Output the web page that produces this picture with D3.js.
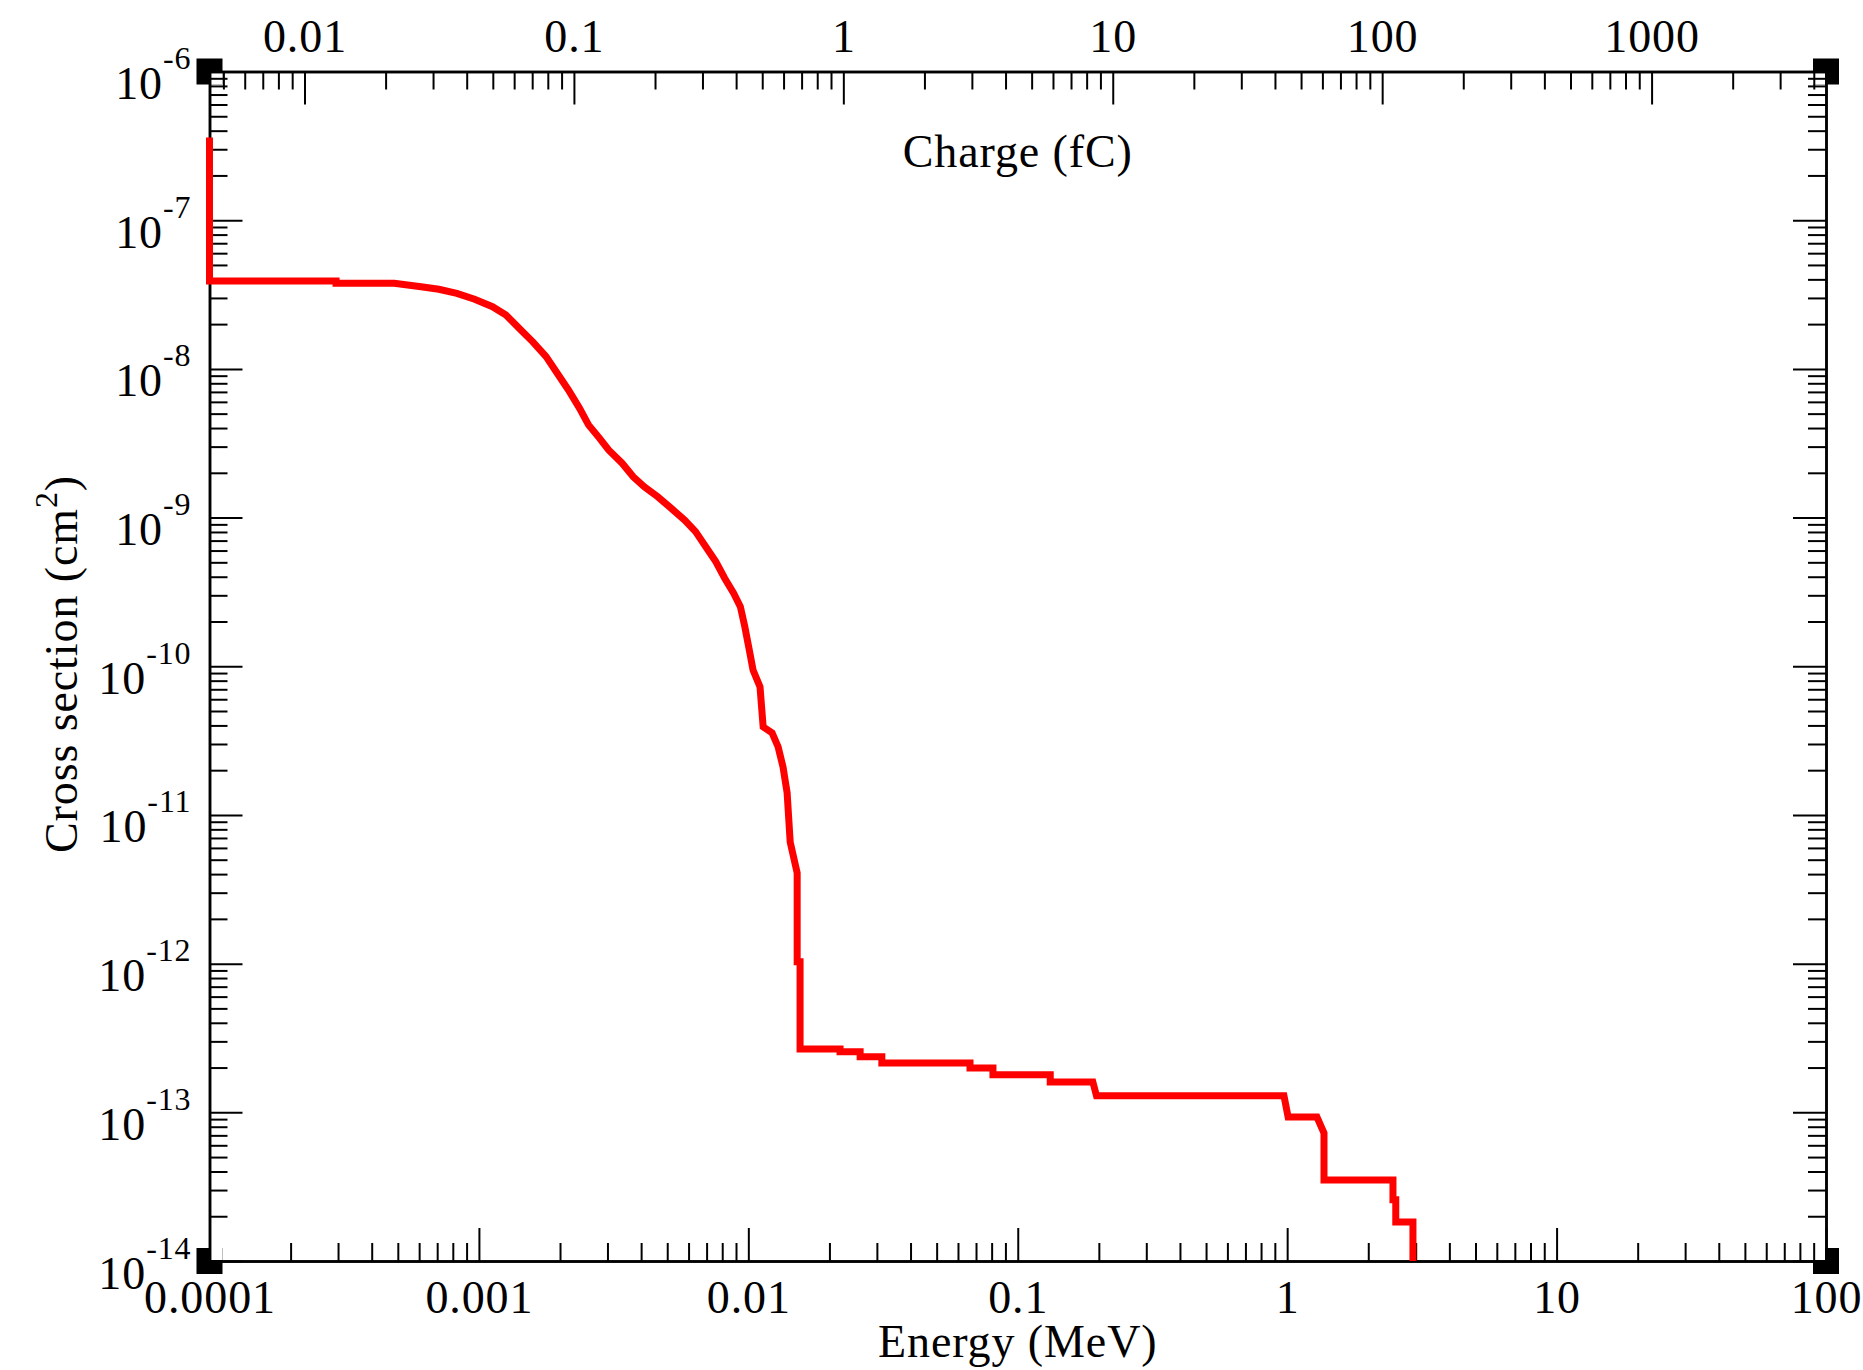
<!DOCTYPE html>
<html>
<head>
<meta charset="utf-8">
<script src="https://cdn.jsdelivr.net/npm/d3@7"></script>
<style>
  body { margin: 0; background: #fff; }
  svg { display: block; }
</style>
</head>
<body>
<div id="chart"></div>
<script>
// Energy deposited (MeV) vs cross section (cm^2)
const energyMeV = [
  1.0e-4, 1.0e-4, 2.95e-4, 2.95e-4, 4.85e-4, 6.10e-4, 7.10e-4, 8.28e-4, 9.64e-4,
  1.123e-3, 1.26e-3, 1.413e-3, 1.585e-3, 1.776e-3, 1.953e-3, 2.149e-3, 2.364e-3,
  2.551e-3, 2.806e-3, 3.03e-3, 3.40e-3, 3.74e-3, 4.11e-3, 4.61e-3, 5.17e-3,
  5.80e-3, 6.37e-3, 7.01e-3, 7.57e-3, 8.17e-3, 8.82e-3, 9.34e-3, 9.70e-3,
  1.008e-2, 1.041e-2, 1.105e-2, 1.135e-2, 1.225e-2, 1.29e-2, 1.345e-2, 1.393e-2,
  1.43e-2, 1.518e-2, 1.518e-2, 1.556e-2, 1.556e-2, 2.19e-2, 2.19e-2, 2.60e-2,
  2.60e-2, 3.13e-2, 3.13e-2, 6.65e-2, 6.65e-2, 8.09e-2, 8.09e-2, 0.132,
  0.132, 0.190, 0.196, 0.973, 1.008, 1.29, 1.37, 1.37, 2.47, 2.47, 2.53,
  2.53, 2.93, 2.93
];
const crossSection = [
  3.6e-7, 3.9e-8, 3.9e-8, 3.77e-8, 3.77e-8, 3.57e-8, 3.43e-8, 3.22e-8, 2.94e-8,
  2.62e-8, 2.30e-8, 1.87e-8, 1.52e-8, 1.21e-8, 9.34e-9, 7.21e-9, 5.43e-9,
  4.20e-9, 3.41e-9, 2.85e-9, 2.32e-9, 1.88e-9, 1.61e-9, 1.38e-9, 1.155e-9,
  9.63e-10, 8.04e-10, 6.22e-10, 5.05e-10, 3.91e-10, 3.10e-10, 2.52e-10, 1.85e-10,
  1.29e-10, 9.44e-11, 7.26e-11, 3.91e-11, 3.56e-11, 2.87e-11, 2.10e-11, 1.41e-11,
  6.58e-12, 4.07e-12, 1.03e-12, 1.03e-12, 2.67e-13, 2.67e-13, 2.55e-13, 2.55e-13,
  2.36e-13, 2.36e-13, 2.15e-13, 2.15e-13, 1.99e-13, 1.99e-13, 1.79e-13, 1.79e-13,
  1.60e-13, 1.60e-13, 1.29e-13, 1.29e-13, 9.3e-14, 9.3e-14, 7.26e-14, 3.51e-14,
  3.51e-14, 2.58e-14, 2.58e-14, 1.83e-14, 1.83e-14, 1.0e-14
];

// axes
const energyTicks = [1e-4, 1e-3, 1e-2, 1e-1, 1, 10, 100];
const energyTickLabels = ["0.0001", "0.001", "0.01", "0.1", "1", "10", "100"];
const chargeTicks = [0.01, 0.1, 1, 10, 100, 1000];
const chargeTickLabels = ["0.01", "0.1", "1", "10", "100", "1000"];
const sigmaTicks = [1e-14, 1e-13, 1e-12, 1e-11, 1e-10, 1e-9, 1e-8, 1e-7, 1e-6];
const sigmaTickExponents = ["-14", "-13", "-12", "-11", "-10", "-9", "-8", "-7", "-6"];
const fCperMeV = 44.4; // charge produced per MeV deposited

const W = 1863, H = 1370;
const x0 = 209.5, x1 = 1826, y0 = 71.5, y1 = 1261;
const font = "'Liberation Serif', 'Times New Roman', serif";
const fontSize = 46, supSize = 32, spacing = 0.9;

const x = d3.scaleLog().domain([1e-4, 100]).range([x0, x1]);
const xTop = d3.scaleLog().domain([1e-4 * fCperMeV, 100 * fCperMeV]).range([x0, x1]);
const y = d3.scaleLog().domain([1e-14, 1e-6]).range([y1, y0]);

// 2..9 minor ticks of every decade inside the domain
function minorTicks(scale) {
  const [lo, hi] = scale.domain();
  const out = [];
  for (let p = Math.floor(Math.log10(lo)); p <= Math.ceil(Math.log10(hi)); p++) {
    for (let k = 2; k <= 9; k++) {
      const v = k * Math.pow(10, p);
      if (v > lo && v < hi) out.push(v);
    }
  }
  return out;
}

const svg = d3.select("#chart").append("svg")
  .attr("width", W)
  .attr("height", H);

// corner markers
const corners = [[x0, y0, 1, 1], [x1, y0, -1, 1], [x0, y1, 1, -1], [x1, y1, -1, -1]];
corners.forEach(([cx, cy, sx, sy]) => {
  svg.append("rect")
    .attr("x", cx - 13).attr("y", cy - 13)
    .attr("width", 26).attr("height", 26)
    .attr("fill", "#000");
  svg.append("rect")
    .attr("x", sx > 0 ? cx + 1 : cx - 13)
    .attr("y", sy > 0 ? cy + 1 : cy - 13)
    .attr("width", 12).attr("height", 12)
    .attr("fill", "#fff");
});

function styleAxis(g) {
  g.selectAll("path.domain").attr("stroke", "#000").attr("stroke-width", 2.5);
  g.selectAll(".tick line").attr("stroke", "#000").attr("stroke-width", 2);
  g.attr("font-family", font).attr("font-size", fontSize);
  g.selectAll("text").attr("fill", "#000").attr("letter-spacing", spacing);
}

// bottom axis (energy)
svg.append("g")
  .attr("transform", `translate(0,${y1})`)
  .call(d3.axisBottom(x).tickValues(minorTicks(x)).tickFormat("").tickSizeInner(-18).tickSizeOuter(0))
  .call(styleAxis);
svg.append("g")
  .attr("transform", `translate(0,${y1})`)
  .call(d3.axisBottom(x).tickValues(energyTicks).tickFormat((d, i) => energyTickLabels[i])
    .tickSizeInner(-33).tickSizeOuter(0).tickPadding(19))
  .call(styleAxis);

// top axis (charge)
svg.append("g")
  .attr("transform", `translate(0,${y0})`)
  .call(d3.axisTop(xTop).tickValues(minorTicks(xTop)).tickFormat("").tickSizeInner(-18).tickSizeOuter(0))
  .call(styleAxis);
svg.append("g")
  .attr("transform", `translate(0,${y0})`)
  .call(d3.axisTop(xTop).tickValues(chargeTicks).tickFormat((d, i) => chargeTickLabels[i])
    .tickSizeInner(-33).tickSizeOuter(0).tickPadding(19.5))
  .call(styleAxis);

// left axis (cross section)
svg.append("g")
  .attr("transform", `translate(${x0},0)`)
  .call(d3.axisLeft(y).tickValues(minorTicks(y)).tickFormat("").tickSizeInner(-18).tickSizeOuter(0))
  .call(styleAxis);
const yAxis = svg.append("g")
  .attr("transform", `translate(${x0},0)`)
  .call(d3.axisLeft(y).tickValues(sigmaTicks).tickFormat("").tickSizeInner(-33).tickSizeOuter(0).tickPadding(18))
  .call(styleAxis);
yAxis.selectAll(".tick text")
  .attr("dy", 27)
  .each(function (d, i) {
    const t = d3.select(this);
    t.append("tspan").text("10");
    t.append("tspan").attr("dy", -30).attr("font-size", supSize).text(sigmaTickExponents[i]);
  });

// right axis
svg.append("g")
  .attr("transform", `translate(${x1},0)`)
  .call(d3.axisRight(y).tickValues(minorTicks(y)).tickFormat("").tickSizeInner(-18).tickSizeOuter(0))
  .call(styleAxis);
svg.append("g")
  .attr("transform", `translate(${x1},0)`)
  .call(d3.axisRight(y).tickValues(sigmaTicks).tickFormat("").tickSizeInner(-33).tickSizeOuter(0))
  .call(styleAxis);

// curve
const points = energyMeV.map((e, i) => ({ e, s: crossSection[i] }));
const line = d3.line()
  .x(d => x(d.e))
  .y(d => y(d.s));

svg.append("path")
  .datum(points)
  .attr("fill", "none")
  .attr("stroke", "#ff0000")
  .attr("stroke-width", 7)
  .attr("stroke-linejoin", "miter")
  .attr("d", line);

// axis titles
svg.append("text")
  .attr("x", (x0 + x1) / 2).attr("y", 1357)
  .attr("text-anchor", "middle")
  .attr("font-family", font).attr("font-size", fontSize).attr("letter-spacing", spacing)
  .text("Energy (MeV)");

svg.append("text")
  .attr("x", (x0 + x1) / 2).attr("y", 167)
  .attr("text-anchor", "middle")
  .attr("font-family", font).attr("font-size", fontSize).attr("letter-spacing", spacing)
  .text("Charge (fC)");

const yTitle = svg.append("text")
  .attr("transform", "translate(77,664) rotate(-90)")
  .attr("text-anchor", "middle")
  .attr("font-family", font).attr("font-size", fontSize).attr("letter-spacing", spacing);
yTitle.append("tspan").text("Cross section (cm");
yTitle.append("tspan").attr("dy", -20).attr("font-size", supSize).text("2");
yTitle.append("tspan").attr("dy", 20).text(")");
</script>
</body>
</html>
